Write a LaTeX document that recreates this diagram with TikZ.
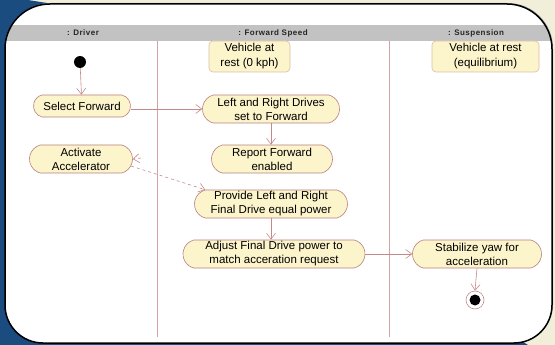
\documentclass[tikz,border=0pt]{standalone}
\usepackage{fontspec}
\setmainfont{Liberation Sans}
\newfontfamily\hdrfont[LetterSpace=6]{Liberation Sans}
\usetikzlibrary{shapes.misc,arrows.meta}
\definecolor{bgbeige}{HTML}{F1EEDA}
\definecolor{bgblue}{HTML}{1A4C80}
\definecolor{actfill}{HTML}{FCF4CB}
\definecolor{actdraw}{HTML}{B88080}
\definecolor{objdraw}{HTML}{D9BFA8}
\definecolor{flow}{HTML}{C48A8A}
\definecolor{lane}{HTML}{D4A4A4}
\definecolor{band}{HTML}{C2C2C2}
\def\panelpath{(5,49) .. controls (5,24.2) and (24.8,4) .. (50,4)
  -- (507,4) .. controls (531.8,4) and (552,24.2) .. (552,49)
  -- (552,305) .. controls (552,326) and (535,343) .. (514,343)
  -- (43,343) .. controls (22,343) and (5,326) .. (5,305) -- cycle}
\begin{document}
\begin{tikzpicture}[x=1pt,y=-1pt,
  act/.style={rounded rectangle, rounded rectangle arc length=150, draw=actdraw,
    fill=actfill, line width=0.6pt, inner sep=0pt, align=center,
    font=\fontsize{11.5}{14}\selectfont},
  obj/.style={rectangle, rounded corners=4pt, draw=objdraw, fill=actfill,
    line width=0.6pt, inner sep=0pt, align=center,
    font=\fontsize{11.5}{15}\selectfont},
  flowline/.style={draw=flow, line width=0.6pt, -{Straight Barb[length=6pt,width=9pt]}},
  hdr/.style={font=\hdrfont\bfseries\fontsize{8}{9}\selectfont, text=black!85, inner sep=0pt},
  lanesep/.style={draw=lane, line width=0.8pt}
  ]
\useasboundingbox (0,0) rectangle (555,345);
% background
\fill[bgbeige] (0,0) rectangle (555,345);
\fill[bgblue] (0,0) -- (28,0) -- (60,5) -- (60,340) -- (520,340) -- (528,345) -- (0,345) -- cycle;
% panel
\fill[black!35] [xshift=1pt,yshift=1pt] \panelpath;
\fill[white] \panelpath;
\begin{scope}
  \clip \panelpath;
  \fill[band] (0,25) rectangle (555,41);
\end{scope}
\draw[black, line width=1.5pt] \panelpath;
% lanes
\draw[lanesep] (157,41) -- (157,337);
\draw[lanesep] (389,41) -- (389,337);
% headers
\node[hdr] (h1) at (83,33) {: Driver};
\node[hdr] (h2) at (273,33) {: Forward Speed};
\node[hdr] (h3) at (476,33) {: Suspension};
% object nodes
\node[obj, minimum width=81pt, minimum height=31pt] (v0) at (249.5,56.5) {Vehicle at\\rest (0 kph)};
\node[obj, minimum width=107pt, minimum height=31pt] (veq) at (485.5,56.5) {Vehicle at rest\\(equilibrium)};
% initial
\node[circle, fill=black, minimum size=12pt, inner sep=0pt] (init) at (80,62) {};
% actions
\node[act, minimum width=97pt, minimum height=22pt] (sf) at (82,106) {Select Forward};
\node[act, minimum width=137pt, minimum height=28pt] (lrd) at (271,109) {Left and Right Drives\\set to Forward};
\node[act, minimum width=121pt, minimum height=28pt] (rfe) at (272,159) {Report Forward\\enabled};
\node[act, minimum width=103pt, minimum height=28pt] (aa) at (81,159) {Activate\\Accelerator};
\node[act, minimum width=153pt, minimum height=28pt] (pfd) at (271,204) {Provide Left and Right\\Final Drive equal power};
\node[act, minimum width=182pt, minimum height=28pt] (adj) at (274,254) {Adjust Final Drive power to\\match acceration request};
\node[act, minimum width=129pt, minimum height=28pt] (stab) at (477,254) {Stabilize yaw for\\acceleration};
% final
\node[circle, draw=flow, fill=white, line width=0.6pt, minimum size=18pt, inner sep=0pt] (fin) at (475,300) {};
\node[circle, fill=black, minimum size=11pt, inner sep=0pt] (findot) at (475,300) {};
% connectors
\coordinate (stub) at (141,158);
\draw[flowline] (init) -- (sf);
\draw[flowline] (sf.east |- lrd.west) -- (lrd.west);
\draw[flowline] (lrd.south) -- (lrd.south |- rfe.north);
\draw[flowline, dashed] (stub) -- (aa.east);
\draw[flowline, dashed] (aa.-8) -- (pfd.north west);
\draw[flowline] (pfd.south) -- (pfd.south |- adj.north);
\draw[flowline] (adj.east) -- (stab.west);
\draw[flowline] (stab.south) -- (fin.north);
\end{tikzpicture}
\end{document}
